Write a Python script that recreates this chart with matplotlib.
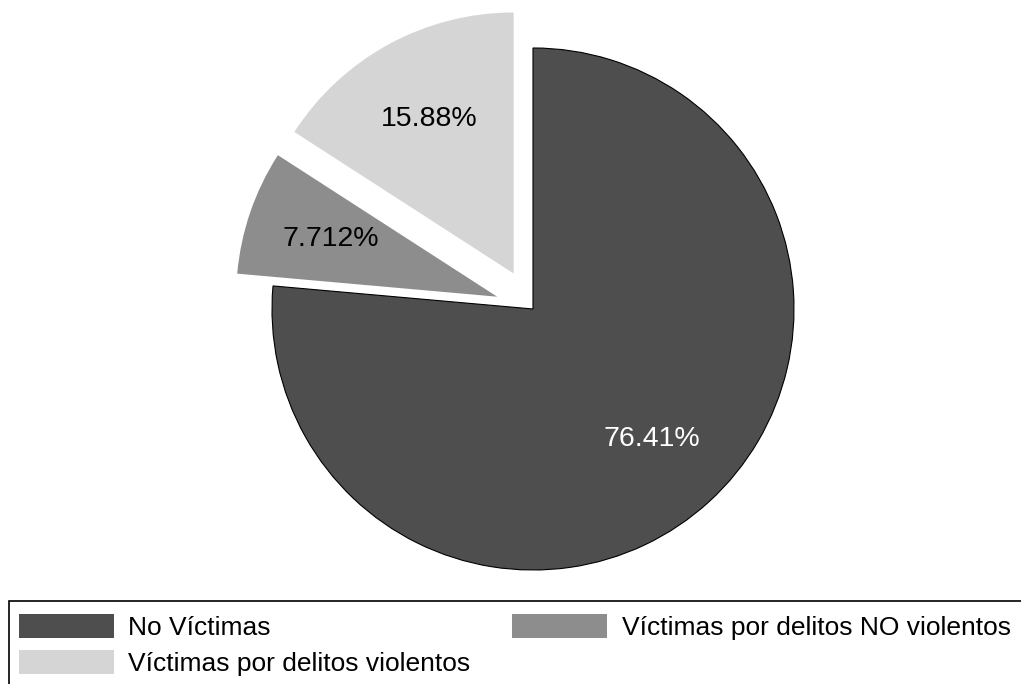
import matplotlib
matplotlib.use('Agg')
import matplotlib.pyplot as plt
from matplotlib.patches import Patch, Rectangle

matplotlib.rcParams.update({'font.family': ['Liberation Sans', 'DejaVu Sans']})

labels = ['No Víctimas', 'Víctimas por delitos NO violentos', 'Víctimas por delitos violentos']
values = [76.41, 7.712, 15.88]
colors = ['#4e4e4e', '#8d8d8d', '#d5d5d5']
explode = [0, 0.145, 0.155]

W, H = 1021, 684
cx, cy, R = 533, 309, 261   # pie centre / radius in pixels

fig = plt.figure(figsize=(W/100, H/100), dpi=100)
ax = fig.add_axes([0, 0, 1, 1])

wedges, texts, autotexts = ax.pie(values, colors=colors, explode=explode,
                                  startangle=90, counterclock=False,
                                  autopct=lambda p: '%.4g%%' % p,
                                  pctdistance=0.675,
                                  textprops={'fontsize': 20.5})
wedges[0].set_edgecolor('black')
wedges[0].set_linewidth(0.8)
for w in wedges[1:]:
    w.set_linewidth(0)
autotexts[0].set_color('white')

ax.set_aspect('auto')
ax.set_xlim(-cx/R, (W-cx)/R)
ax.set_ylim(-(H-cy)/R, cy/R)
ax.axis('off')

# legend frame runs off the right and bottom edges
fig.patches.append(Rectangle((9/W, -0.05), 1.1, 1-601/H+0.05, transform=fig.transFigure,
                             fill=False, edgecolor='black', linewidth=1.2))

handles = [Patch(facecolor=c, edgecolor='none') for c in colors]
order = [0, 2, 1]
fig.legend([handles[i] for i in order], [labels[i] for i in order],
           ncol=2, loc='upper left', bbox_to_anchor=(11/W, 1-606/H),
           frameon=False, fontsize=19, handlelength=3.6, handleheight=1.0,
           handletextpad=0.55, columnspacing=1.57, labelspacing=0.4,
           borderpad=0.3, borderaxespad=0)

fig.savefig('out.png', dpi=100)
